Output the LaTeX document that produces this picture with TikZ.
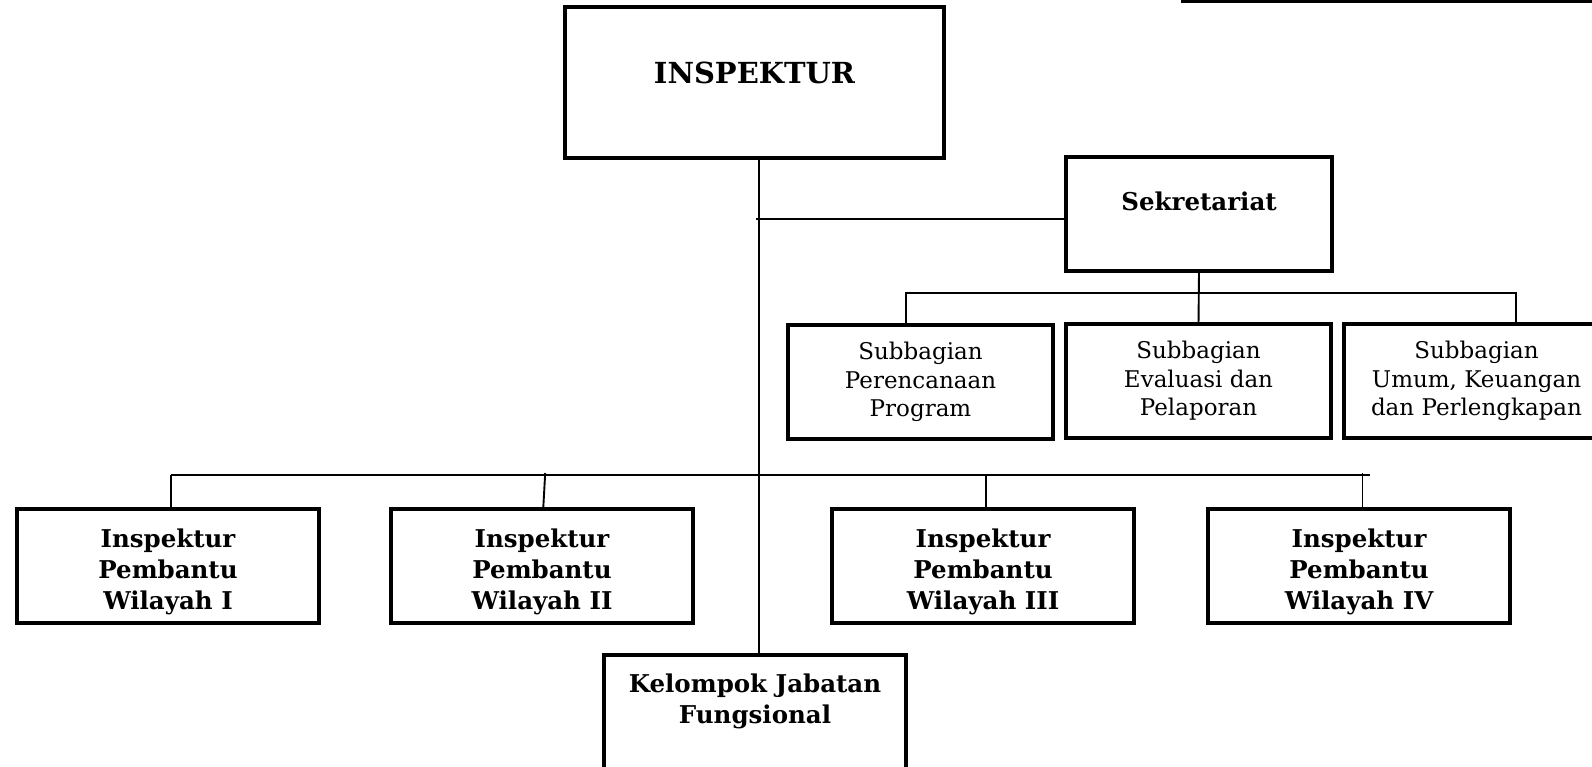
\documentclass[tikz,border=0pt]{standalone}
\usepackage{fontspec}
\setmainfont{DejaVu Serif}
\usetikzlibrary{calc}
\tikzset{
  orgbox/.style={draw=black, line width=3.4pt, rectangle, outer sep=0pt, inner sep=0pt, anchor=north west, fill=white},
  link/.style={draw=black, line width=1.9pt},
  headtext/.style={font=\fontsize{29}{34}\selectfont\bfseries, align=center, inner sep=0pt},
  boldtext/.style={font=\fontsize{24.5}{31}\selectfont\bfseries, align=center, inner sep=0pt},
  subtext/.style={font=\fontsize{23}{28.6}\selectfont, align=center, inner sep=0pt},
}
\begin{document}
\begin{tikzpicture}[x=1pt,y=-1pt]
\useasboundingbox (0,0) rectangle (1592,766);
% top rule
\coordinate (tl) at (1181,1.5);
\coordinate (tr) at (1600,1.5);
\draw[line width=3pt] (tl) -- (tr);

\coordinate (m) at (759.4,0);
\coordinate (sb) at (756.4,219.3);
\coordinate (s1) at (905.6,293.4);
\coordinate (s3) at (1515.8,293.4);
\coordinate (hl) at (170.6,475.2);
\coordinate (hr) at (1369.6,475.2);

% boxes
\node[orgbox, minimum width=379pt, minimum height=151pt] (insp) at (565,7) {};
\node[headtext] (insptext) at ($(insp.north)+(0,66)$) {INSPEKTUR};

\node[orgbox, minimum width=266pt, minimum height=114pt] (sek) at (1066,157) {};
\node[boldtext] (sektext) at ($(sek.north)+(0,44)$) {Sekretariat};

\node[orgbox, minimum width=265pt, minimum height=114pt] (sub1) at (788,325) {};
\node[subtext] (sub1text) at (sub1.center) {Subbagian\\Perencanaan\\Program};
\node[orgbox, minimum width=265pt, minimum height=114pt] (sub2) at (1066,324) {};
\node[subtext] (sub2text) at (sub2.center) {Subbagian\\Evaluasi dan\\Pelaporan};
\node[orgbox, minimum width=265pt, minimum height=114pt] (sub3) at (1344,324) {};
\node[subtext] (sub3text) at (sub3.center) {Subbagian\\Umum, Keuangan\\dan Perlengkapan};

\node[orgbox, minimum width=302pt, minimum height=114pt] (ip1) at (17,509) {};
\node[boldtext] (ip1text) at ($(ip1.center)+(0,5.5)$) {Inspektur\\Pembantu\\Wilayah I};
\node[orgbox, minimum width=302pt, minimum height=114pt] (ip2) at (391,509) {};
\node[boldtext] (ip2text) at ($(ip2.center)+(0,5.5)$) {Inspektur\\Pembantu\\Wilayah II};
\node[orgbox, minimum width=302pt, minimum height=114pt] (ip3) at (832,509) {};
\node[boldtext] (ip3text) at ($(ip3.center)+(0,5.5)$) {Inspektur\\Pembantu\\Wilayah III};
\node[orgbox, minimum width=302pt, minimum height=114pt] (ip4) at (1208,509) {};
\node[boldtext] (ip4text) at ($(ip4.center)+(0,5.5)$) {Inspektur\\Pembantu\\Wilayah IV};

\node[orgbox, minimum width=302pt, minimum height=160pt] (kfg) at (604,655) {};
\node[boldtext] (kfgtext) at ($(kfg.north)+(0,46)$) {Kelompok Jabatan\\Fungsional};

% connectors
\draw[link] (insp.south -| m) -- (kfg.north -| m);
\draw[link] (sb) -- (sb -| sek.west);
\draw[link] (sek.south) -- (sub2.north);
\draw[link] (s1 |- sub1.north) -- (s1) -- (s3) -- (s3 |- sub3.north);
\draw[link] (hl) -- (hr);
\draw[link] (hl) -- (hl |- ip1.north);
\draw[link] ($(ip2.north)+(3.2,-36)$) -- ($(ip2.north)+(1.2,0)$);
\draw[link] ($(ip3.north)+(2.9,-34)$) -- ($(ip3.north)+(2.9,0)$);
\draw[link] ($(ip4.north)+(3.5,-36)$) -- ($(ip4.north)+(3.5,0)$);
\end{tikzpicture}
\end{document}
